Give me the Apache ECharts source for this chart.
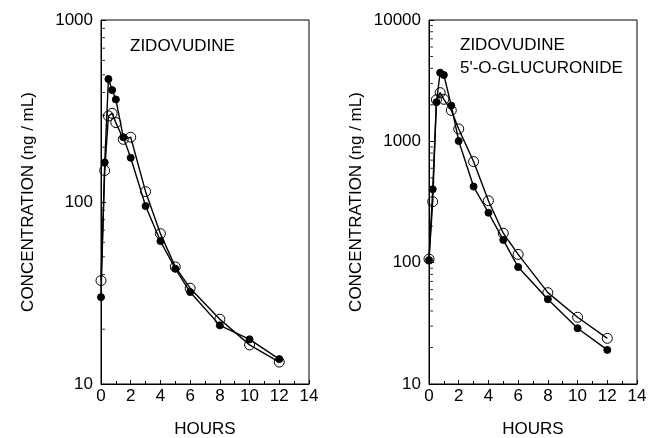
<!DOCTYPE html>
<html>
<head>
<meta charset="utf-8">
<script src="https://cdn.jsdelivr.net/npm/echarts@6/dist/echarts.min.js"></script>
<style>
  html, body { margin: 0; padding: 0; background: #fff; }
  #main { width: 648px; height: 438px; }
</style>
</head>
<body>
<div id="main"></div>
<script>
// sampling times (hours)
var hours = [0, 0.25, 0.5, 0.75, 1, 1.5, 2, 3, 4, 5, 6, 8, 10, 12];

// zidovudine (ng/mL)
var zdvFilled = [30, 165, 474, 412, 366, 227, 175, 95, 61, 43, 32, 21, 17.6, 13.7];
var zdvOpen = [37, 149, 297, 307, 273, 221, 227, 114, 67, 44, 33.6, 22.7, 16.4, 13.2];

// zidovudine 5'-O-glucuronide (ng/mL)
var gzdvFilled = [105, 403, 2100, 3680, 3520, 1970, 1007, 424, 258, 154, 92, 50, 28.8, 19.1];
var gzdvOpen = [107, 318, 2200, 2520, 2220, 1800, 1265, 681, 324, 175, 117, 56.6, 35.5, 23.8];

// minor log ticks
var minorLeft = [20, 30, 40, 50, 60, 70, 80, 90, 200, 300, 400, 500, 600, 700, 800, 900];
var minorRight = [20, 30, 40, 50, 60, 70, 80, 90, 200, 300, 400, 500, 600, 700, 800, 900,
                  2000, 3000, 4000, 5000, 6000, 7000, 8000, 9000];

var font = 'Liberation Sans, Arial, sans-serif';

function pairs(xs, ys) {
    var out = [];
    for (var i = 0; i < xs.length; i++) out.push([xs[i], ys[i]]);
    return out;
}

function xAxisFor(idx) {
    return {
        type: 'value', gridIndex: idx, min: 0, max: 14, interval: 2,
        name: 'HOURS', nameLocation: 'middle', nameGap: 37,
        nameTextStyle: { fontFamily: font, fontSize: 17, color: '#000' },
        axisLine: { lineStyle: { color: '#000', width: 1 } },
        axisTick: { inside: true, length: 4, lineStyle: { color: '#000' } },
        minorTick: { show: true, splitNumber: 2, length: 3, lineStyle: { color: '#000' } },
        axisLabel: { fontFamily: font, fontSize: 17, color: '#000', margin: 4 },
        splitLine: { show: false }
    };
}

function yAxisFor(idx, max) {
    return {
        type: 'log', logBase: 10, gridIndex: idx, min: 10, max: max,
        name: 'CONCENTRATION (ng / mL)', nameLocation: 'middle', nameGap: 64,
        nameTextStyle: { fontFamily: font, fontSize: 17, color: '#000' },
        axisLine: { show: true, lineStyle: { color: '#000', width: 1 } },
        axisTick: { inside: true, length: 5, lineStyle: { color: '#000' } },
        axisLabel: { fontFamily: font, fontSize: 17, color: '#000', margin: 8,
                     formatter: function (v) { return String(Math.round(v)); } },
        splitLine: { show: false }
    };
}

function lineSeries(idx, data, filled) {
    return {
        type: 'line', xAxisIndex: idx, yAxisIndex: idx,
        data: data, symbol: 'circle', symbolSize: filled ? 7 : 10,
        showAllSymbol: true, animation: false,
        lineStyle: { color: '#000', width: 1.4 },
        itemStyle: filled ? { color: '#000', borderColor: '#000' }
                          : { color: 'rgba(255,255,255,0)', borderColor: '#000', borderWidth: 1 },
        z: filled ? 3 : 2
    };
}

function minorSeries(idx, vals) {
    return {
        type: 'scatter', xAxisIndex: idx, yAxisIndex: idx, silent: true, animation: false,
        data: vals.map(function (v) { return [0, v]; }),
        symbol: 'rect', symbolSize: [4, 1], symbolOffset: [2, 0],
        itemStyle: { color: '#000' }
    };
}

var chart = echarts.init(document.getElementById('main'), null, { renderer: 'canvas' });
chart.setOption({
    backgroundColor: '#fff',
    animation: false,
    title: [
        { text: 'ZIDOVUDINE', left: 125, top: 33,
          textStyle: { fontFamily: font, fontSize: 17, fontWeight: 'normal', color: '#000' } },
        { text: 'ZIDOVUDINE\n5\'-O-GLUCURONIDE', left: 455, top: 29,
          textStyle: { fontFamily: font, fontSize: 17, fontWeight: 'normal', color: '#000', lineHeight: 23 } }
    ],
    grid: [
        { left: 101, right: 339, top: 20, bottom: 54, outerBoundsMode: 'none', containLabel: false,
          show: true, borderColor: '#000', borderWidth: 1 },
        { left: 429, right: 11, top: 20, bottom: 54, outerBoundsMode: 'none', containLabel: false,
          show: true, borderColor: '#000', borderWidth: 1 }
    ],
    xAxis: [xAxisFor(0), xAxisFor(1)],
    yAxis: [yAxisFor(0, 1000), yAxisFor(1, 10000)],
    series: [
        minorSeries(0, minorLeft),
        minorSeries(1, minorRight),
        lineSeries(0, pairs(hours, zdvOpen), false),
        lineSeries(0, pairs(hours, zdvFilled), true),
        lineSeries(1, pairs(hours, gzdvOpen), false),
        lineSeries(1, pairs(hours, gzdvFilled), true)
    ]
});
</script>
</body>
</html>
